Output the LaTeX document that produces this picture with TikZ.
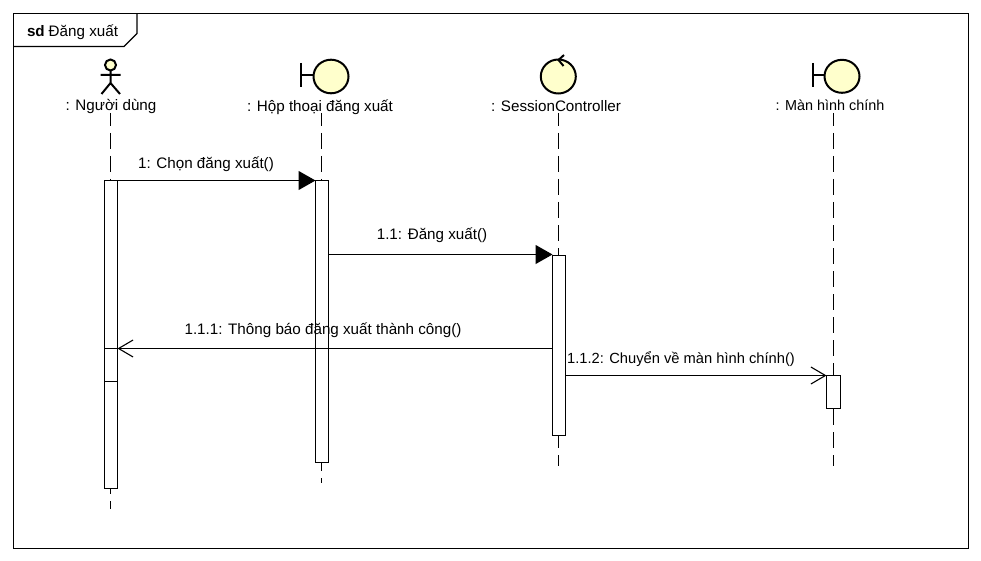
\documentclass[tikz,border=0pt]{standalone}
\usepackage{fontspec}
\setmainfont{Liberation Sans}
\usetikzlibrary{arrows.meta}
\definecolor{fillY}{HTML}{FFFFCC}
\tikzset{
 x=1pt,y=-1pt,
 every node/.style={font=\fontsize{15.2}{17}\selectfont,inner sep=0pt,outer sep=0pt,text=black},
 lifeline/.style={line width=1.1pt,dash pattern=on 16pt off 7pt,dash phase=3pt},
 bar/.style={draw,fill=white,line width=1.1pt},
 msgline/.style={line width=1.1pt},
 sync/.style={msgline,-{Triangle[length=17pt,width=19pt]}},
 open/.style={msgline,-{Straight Barb[length=14.5pt,width=17pt,line width=1.1pt]}},
 icon/.style={draw,line width=2pt,fill=fillY},
 stick/.style={line width=2pt},
 msglabel/.style={anchor=base},
 narrowtext/.style={font=\fontsize{14.7}{17}\selectfont},
 narrowname/.style={font=\fontsize{14.4}{17}\selectfont}
}
\begin{document}
\begin{tikzpicture}
\useasboundingbox (0,0) rectangle (981,561);
\fill[white] (0,0) rectangle (981,561);
% frame
\draw[line width=1.1pt] (13.5,13.5) rectangle (968.5,548.5);
\draw[line width=1.1pt] (13.5,46.5) -- (124,46.5) -- (137,33.5) -- (137,13.5);
\node[anchor=base west] (title) at (27,37) {\textbf{sd}\hspace{4pt}Đăng xuất};
% lifeline anchors
\coordinate (t1) at (110.5,113);
\coordinate (b1) at (110.5,509);
\coordinate (t2) at (321.5,113);
\coordinate (b2) at (321.5,483);
\coordinate (t3) at (558.5,113);
\coordinate (b3) at (558.5,466);
\coordinate (t4) at (833.5,113);
\coordinate (b4) at (833.5,466);
\draw[lifeline] (t1) -- (b1);
\draw[lifeline] (t2) -- (b2);
\draw[lifeline] (t3) -- (b3);
\draw[lifeline] (t4) -- (b4);
% actor
\draw[icon] (110.5,65) circle (5.5pt);
\draw[stick] (110.5,70.5) -- (110.5,83) (100.5,75) -- (120.5,75) (101.5,94) -- (110.5,83) -- (120,94);
% boundary 1
\draw[stick] (301,63) -- (301,87) (301,75.5) -- (313,75.5);
\draw[icon] (331,76.5) ellipse (17.5pt and 16.8pt);
% control
\draw[icon] (558.3,76.5) ellipse (17.5pt and 17pt);
\draw[stick] (564,55) -- (558.5,60) -- (563.5,66);
% boundary 2
\draw[stick] (813,63) -- (813,87) (813,75.5) -- (824,75.5);
\draw[icon] (842,76.3) ellipse (17.5pt and 16.5pt);
% names
\node[anchor=base] (n1) at (111,111) {: Người dùng};
\node[anchor=base] (n2) at (320,112) {: Hộp thoại đăng xuất};
\node[anchor=base] (n3) at (556,112) {: SessionController};
\node[anchor=base,narrowname] (n4) at (830,110.5) {: Màn hình chính};
% bars
\node[bar,minimum width=13pt,minimum height=308pt,anchor=north west] (a1) at (104.5,180.5) {};
\node[bar,minimum width=13pt,minimum height=33pt,anchor=north west] (a1b) at (104.5,348.5) {};
\node[bar,minimum width=13pt,minimum height=282pt,anchor=north west] (a2) at (315.5,180.5) {};
\node[bar,minimum width=13pt,minimum height=180pt,anchor=north west] (a3) at (552.5,255.5) {};
\node[bar,minimum width=14pt,minimum height=33pt,anchor=north west] (a4) at (826.5,375.5) {};
% messages
\coordinate (m1s) at (117.5,180.5);
\coordinate (m1e) at (315.5,180.5);
\coordinate (m2s) at (328.5,254.5);
\coordinate (m2e) at (552.5,254.5);
\coordinate (m3s) at (552.5,348.5);
\coordinate (m3e) at (117.5,348.5);
\coordinate (m4s) at (565.5,375.5);
\coordinate (m4e) at (826.5,375.5);
\draw[sync] (m1s) -- (m1e);
\draw[sync] (m2s) -- (m2e);
\draw[open] (m3s) -- (m3e);
\draw[open] (m4s) -- (m4e);
\node[msglabel] (l1) at (206,169) {1: Chọn đăng xuất()};
\node[msglabel] (l2) at (432,240) {1.1: Đăng xuất()};
\node[msglabel] (l3) at (323,334.5) {1.1.1: Thông báo đăng xuất thành công()};
\node[msglabel,narrowtext] (l4) at (681,363) {1.1.2: Chuyển về màn hình chính()};
\end{tikzpicture}
\end{document}
